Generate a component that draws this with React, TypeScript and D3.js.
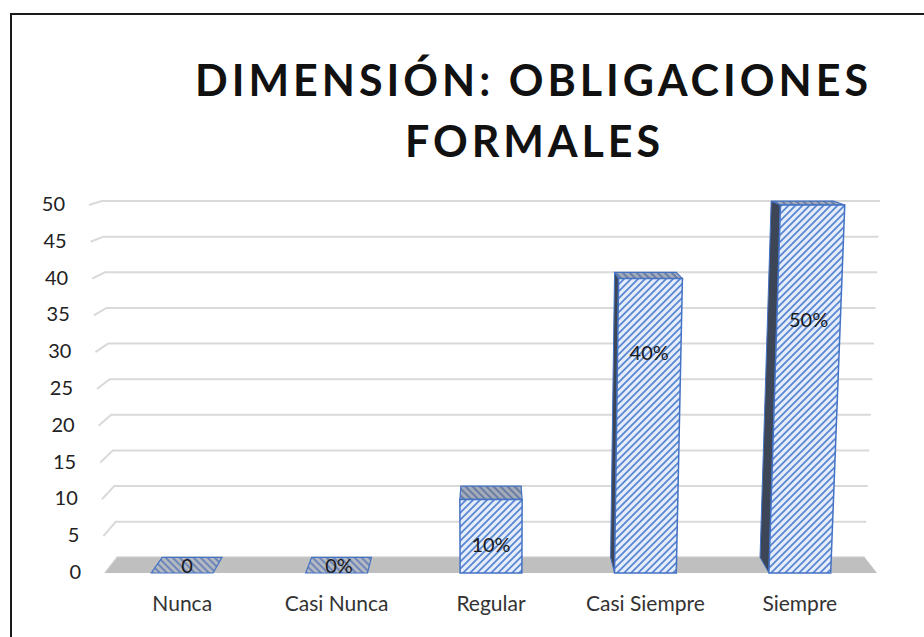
import React from 'react';
import * as d3 from 'd3';

// ---- data ----
const categories = ['Nunca', 'Casi Nunca', 'Regular', 'Casi Siempre', 'Siempre'];
const values = [0, 0, 10, 40, 50];
const dataLabels = ['0', '0%', '10%', '40%', '50%'];
// height (in data units) at which each data label sits on its bar
const labelLevels = [0, 0, 4, 30, 34.5];
const yTicks = [0, 5, 10, 15, 20, 25, 30, 35, 40, 45, 50];
const titleLines = ['DIMENSIÓN: OBLIGACIONES', 'FORMALES'];

const W = 924;
const H = 637;
const CX = 491; // horizontal centre of the plot / vanishing point x
const VPY = 82; // vanishing point y
const DEPTH = 0.032; // perspective shrink of the back plane
const FONT = "Lato, 'Open Sans', 'DejaVu Sans', sans-serif";

export default function App() {
  const y = d3.scaleLinear().domain([0, 50]).range([573, 205]);
  const halfW = d3.scaleLinear().domain([0, 50]).range([386, 402]);
  const band = d3.scaleBand<string>().domain(categories).range([-1, 1]);
  const bw = band.bandwidth();

  const proj = (u: number, v: number, z: number): [number, number] => {
    const fx = CX + u * halfW(v);
    const fy = y(v);
    const s = 1 - DEPTH * z;
    return [CX + (fx - CX) * s, VPY + (fy - VPY) * s];
  };
  const poly = (pts: [number, number][]) => 'M' + pts.map((p) => p.join(',')).join('L') + 'Z';

  const grid = yTicks.map((t) => {
    const a = proj(-1, t, 0);
    const b = proj(-1, t, 1);
    const c = proj(1, t, 1);
    return `M${a[0]},${a[1]}L${b[0]},${b[1]}L${c[0]},${c[1]}`;
  });

  const floor = poly([proj(-1, 0, 0), proj(1, 0, 0), proj(1, 0, 1), proj(-1, 0, 1)]);

  const bars = categories.map((cat, i) => {
    const v = values[i];
    const u0 = (band(cat) as number) + bw * 0.3;
    const u1 = u0 + bw * 0.4;
    const uc = (u0 + u1) / 2;
    const front = poly([proj(u0, 0, 0), proj(u1, 0, 0), proj(u1, v, 0), proj(u0, v, 0)]);
    const top = poly([proj(u0, v, 0), proj(u1, v, 0), proj(u1, v, 1), proj(u0, v, 1)]);
    let side: string | null = null;
    if (v > 0 && proj(u0, 0, 0)[0] > CX) {
      side = poly([proj(u0, 0, 0), proj(u0, v, 0), proj(u0, v, 1), proj(u0, 0, 1)]);
    } else if (v > 0 && proj(u1, 0, 0)[0] < CX) {
      side = poly([proj(u1, 0, 0), proj(u1, v, 0), proj(u1, v, 1), proj(u1, 0, 1)]);
    }
    const lp = v === 0 ? proj(uc, 0, 0.5) : proj(uc, labelLevels[i], 0);
    const ap = proj(uc, 0, 0);
    return { cat, v, front, top, side, lp, ap, label: dataLabels[i] };
  });

  return (
    <svg
      width={W}
      height={H}
      viewBox={`0 0 ${W} ${H}`}
      style={{ position: 'absolute', left: 0, top: 0, background: '#fff' }}
    >
      <defs>
        <pattern id="frontHatch" patternUnits="userSpaceOnUse" width="7" height="7">
          <rect width="7" height="7" fill="#e4ecf9" />
          <path d="M-1,8L8,-1M-4,4L4,-4M3,11L11,3" stroke="#5785d3" strokeWidth="1.7" />
        </pattern>
        <pattern id="topHatch" patternUnits="userSpaceOnUse" width="7" height="7">
          <rect width="7" height="7" fill="#a4acb9" />
          <path d="M-1,-1L8,8M-4,3L4,11M3,-4L11,4" stroke="#6a7ea6" strokeWidth="2" />
        </pattern>
        <pattern id="zeroHatch" patternUnits="userSpaceOnUse" width="7" height="7">
          <rect width="7" height="7" fill="#b4b9c2" />
          <path d="M-1,-1L8,8M-4,3L4,11M3,-4L11,4" stroke="#7088b8" strokeWidth="2" />
        </pattern>
      </defs>

      {/* frame */}
      <path d={`M11,${H + 5}L11,14L${W + 5},14`} fill="none" stroke="#1a1a1a" strokeWidth="2" />

      {/* title */}
      {titleLines.map((t, i) => (
        <text
          key={t}
          x={i === 0 ? 195 : 405}
          y={i === 0 ? 96 : 157}
          textLength={i === 0 ? 673 : 255}
          lengthAdjust="spacing"
          fontFamily={FONT}
          fontWeight={700}
          fontSize={43}
          fill="#111"
        >
          {t}
        </text>
      ))}

      {/* gridlines */}
      {grid.map((d, i) => (
        <path key={i} d={d} fill="none" stroke="#d9d9d9" strokeWidth="2" />
      ))}

      {/* floor */}
      <path d={floor} fill="#bfbfbf" />

      {/* y tick labels */}
      {yTicks.map((t) => {
        const p = proj(-1, t, 0);
        return (
          <text
            key={t}
            x={p[0] - 24}
            y={p[1] - 2}
            textAnchor="end"
            dominantBaseline="central"
            fontFamily={FONT}
            fontSize={20}
            fill="#222"
          >
            {t}
          </text>
        );
      })}

      {/* bars */}
      {bars.map((b) => (
        <g key={b.cat}>
          {b.side && <path d={b.side} fill="#3d4656" stroke="#4472c4" strokeWidth="1" />}
          <path
            d={b.top}
            fill={b.v === 0 ? 'url(#zeroHatch)' : 'url(#topHatch)'}
            stroke="#4472c4"
            strokeWidth="1.2"
          />
          {b.v > 0 && <path d={b.front} fill="url(#frontHatch)" stroke="#4472c4" strokeWidth="1.5" />}
        </g>
      ))}

      {/* data labels */}
      {bars.map((b) => (
        <text
          key={b.cat + 'l'}
          x={b.lp[0]}
          y={b.lp[1]}
          textAnchor="middle"
          dominantBaseline="central"
          fontFamily={FONT}
          fontSize={20}
          fill="#1a1a1a"
        >
          {b.label}
        </text>
      ))}

      {/* category labels */}
      {bars.map((b) => (
        <text
          key={b.cat + 'a'}
          x={b.ap[0]}
          y={b.ap[1] + 38}
          textAnchor="middle"
          fontFamily={FONT}
          fontSize={21}
          fill="#333"
        >
          {b.cat}
        </text>
      ))}
    </svg>
  );
}
